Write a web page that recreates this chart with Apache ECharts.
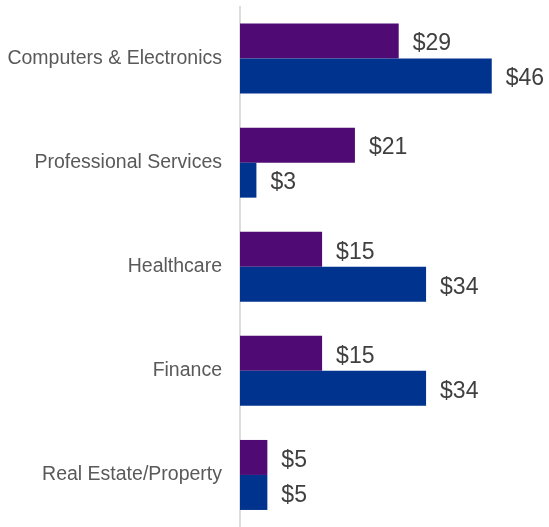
<!DOCTYPE html>
<html>
<head>
<meta charset="utf-8">
<script src="https://cdn.jsdelivr.net/npm/echarts@6/dist/echarts.min.js"></script>
<style>
  html, body { margin: 0; padding: 0; background: #fff; }
  #chart { width: 549px; height: 527px; }
</style>
</head>
<body>
<div id="chart"></div>
<script>
// categories top to bottom
const categories = ["Computers & Electronics", "Professional Services", "Healthcare", "Finance", "Real Estate/Property"];
const purpleValues = [29, 21, 15, 15, 5];
const blueValues = [46, 3, 34, 34, 5];

var chart = echarts.init(document.getElementById("chart"));

const valueLabel = {
  show: true,
  position: "right",
  distance: 14,
  offset: [0, 3],
  color: "#404040",
  fontFamily: "Liberation Sans, Arial, sans-serif",
  fontSize: 23,
  formatter: (p) => "$" + p.value
};

var option = {
  animation: false,
  grid: { left: 240, right: 8, top: 6.5, height: 524, containLabel: false },
  xAxis: {
    type: "value",
    min: 0,
    max: 55,
    show: false
  },
  yAxis: {
    type: "category",
    inverse: true,
    data: categories,
    axisLine: { show: true, lineStyle: { color: "#d0d0d0", width: 1.5 } },
    axisTick: { show: false },
    axisLabel: {
      margin: 18,
      padding: [4, 0, 0, 0],
      color: "#595959",
      fontFamily: "Liberation Sans, Arial, sans-serif",
      fontSize: 19.5
    }
  },
  series: [
    {
      type: "bar",
      data: purpleValues,
      barWidth: 35,
      barGap: "0%",
      itemStyle: { color: "#4f0a74" },
      label: valueLabel
    },
    {
      type: "bar",
      data: blueValues,
      barWidth: 35,
      barGap: "0%",
      itemStyle: { color: "#00338d" },
      label: valueLabel
    }
  ]
};

chart.setOption(option);
</script>
</body>
</html>
